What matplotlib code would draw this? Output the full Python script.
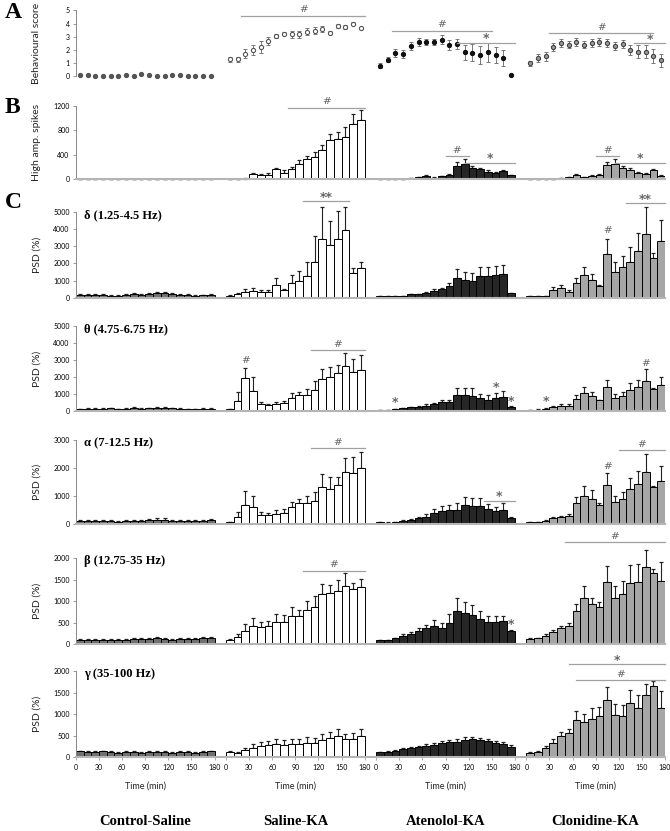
import numpy as np
import matplotlib.pyplot as plt
from matplotlib import transforms

# groups and time bins (10-min bins, 0-180 min)
groups = ['Control-Saline', 'Saline-KA', 'Atenolol-KA', 'Clonidine-KA']
time_min = [10, 20, 30, 40, 50, 60, 70, 80, 90, 100, 110, 120, 130, 140, 150, 160, 170, 180]
xtick_vals = [0, 30, 60, 90, 120, 150, 180]

# A - behavioural score (mean, sem) per group
score_mean = [
    [0.1, 0.1, 0, 0, 0, 0, 0.1, 0, 0.15, 0.05, 0, 0, 0.1, 0.08, 0, 0, 0, 0],
    [1.28, 1.28, 1.7, 1.98, 2.2, 2.68, 3.05, 3.23, 3.18, 3.18, 3.38, 3.45, 3.58, 3.3, 3.78, 3.7, 4.0, 3.65],
    [0.78, 1.25, 1.78, 1.7, 2.3, 2.6, 2.6, 2.6, 2.78, 2.35, 2.45, 1.8, 1.78, 1.6, 1.8, 1.6, 1.35, 0.1],
    [0.98, 1.38, 1.5, 2.2, 2.5, 2.4, 2.58, 2.4, 2.5, 2.6, 2.5, 2.28, 2.45, 2.0, 1.85, 1.85, 1.53, 1.2],
]
score_err = [
    [0, 0, 0, 0, 0, 0, 0, 0, 0, 0, 0, 0, 0, 0, 0, 0, 0, 0],
    [0.2, 0.2, 0.35, 0.4, 0.45, 0.3, 0.15, 0.1, 0.25, 0.25, 0.25, 0.25, 0.2, 0.1, 0.15, 0.15, 0.15, 0.1],
    [0.2, 0.2, 0.3, 0.3, 0.3, 0.3, 0.25, 0.25, 0.35, 0.4, 0.4, 0.6, 0.65, 0.7, 0.7, 0.6, 0.6, 0.0],
    [0.2, 0.3, 0.35, 0.3, 0.3, 0.3, 0.3, 0.3, 0.3, 0.3, 0.3, 0.3, 0.3, 0.4, 0.5, 0.5, 0.5, 0.5],
]

# B - high amplitude spikes
spikes_mean = [
    [4, 5, 3, 4, 5, 4, 3, 5, 4, 3, 4, 5, 4, 3, 4, 3, 4, 3],
    [0, 5, 15, 85, 80, 80, 175, 100, 170, 260, 330, 360, 480, 640, 660, 690, 910, 975],
    [0, 2, 3, 8, 20, 35, 60, 30, 50, 70, 220, 245, 190, 165, 130, 105, 140, 65],
    [2, 2, 3, 8, 20, 40, 80, 35, 55, 75, 230, 250, 190, 160, 110, 90, 150, 60],
]
spikes_err = [
    [1, 1, 1, 1, 1, 1, 1, 1, 1, 1, 1, 1, 1, 1, 1, 1, 1, 1],
    [2, 3, 5, 20, 15, 20, 20, 60, 30, 50, 60, 80, 80, 100, 110, 160, 150, 160],
    [1, 1, 2, 3, 5, 8, 10, 8, 10, 12, 70, 85, 30, 30, 20, 20, 20, 15],
    [1, 1, 2, 3, 5, 8, 12, 8, 10, 12, 60, 90, 30, 25, 20, 15, 20, 15],
]

# C - PSD (%) per frequency band
delta_mean = [
    [150, 180, 160, 170, 120, 110, 150, 210, 170, 200, 250, 280, 220, 160, 150, 110, 140, 160],
    [100, 200, 320, 380, 350, 360, 720, 430, 850, 1000, 1250, 2100, 3450, 3100, 3450, 3950, 1420, 1715],
    [80, 80, 80, 100, 195, 195, 290, 410, 490, 680, 1170, 1030, 970, 1245, 1245, 1300, 1360, 250],
    [80, 80, 100, 430, 545, 310, 840, 1340, 1030, 660, 2550, 1480, 1790, 2100, 2740, 3720, 2350, 3310],
]
delta_err = [
    [40, 50, 40, 50, 40, 30, 40, 50, 40, 50, 60, 60, 50, 40, 40, 30, 40, 50],
    [30, 100, 200, 200, 100, 100, 410, 60, 480, 580, 820, 1530, 1880, 1410, 1650, 1360, 320, 400],
    [10, 10, 10, 15, 30, 30, 60, 80, 100, 170, 480, 450, 450, 525, 525, 550, 540, 50],
    [20, 20, 20, 210, 215, 140, 290, 430, 330, 100, 910, 620, 660, 840, 1070, 1590, 240, 1260],
]
theta_mean = [
    [100, 110, 120, 130, 150, 100, 120, 160, 130, 150, 170, 180, 150, 120, 100, 100, 110, 120],
    [100, 590, 1970, 1200, 430, 335, 410, 470, 790, 925, 945, 1240, 1870, 2000, 2230, 2680, 2290, 2440],
    [60, 60, 100, 160, 215, 255, 315, 410, 510, 550, 945, 945, 905, 750, 670, 770, 850, 235],
    [60, 80, 140, 235, 295, 315, 710, 1040, 870, 630, 1400, 750, 870, 1240, 1400, 1790, 1280, 1520],
]
theta_err = [
    [30, 40, 30, 40, 40, 30, 40, 50, 40, 40, 50, 50, 40, 40, 30, 30, 40, 40],
    [40, 550, 550, 830, 120, 50, 100, 100, 250, 220, 330, 530, 590, 620, 470, 730, 760, 850],
    [10, 10, 20, 30, 40, 50, 70, 80, 120, 130, 400, 400, 430, 230, 300, 300, 330, 40],
    [10, 20, 50, 50, 100, 100, 230, 380, 270, 20, 410, 260, 250, 400, 410, 670, 60, 510],
]
alpha_mean = [
    [110, 110, 120, 120, 130, 90, 110, 120, 120, 150, 170, 160, 130, 110, 120, 120, 120, 150],
    [70, 270, 690, 630, 330, 330, 380, 400, 630, 750, 750, 830, 1340, 1245, 1400, 1850, 1815, 1990],
    [70, 60, 80, 110, 155, 215, 270, 415, 490, 500, 500, 690, 650, 650, 545, 475, 520, 240],
    [70, 70, 120, 215, 250, 300, 750, 1020, 900, 675, 1400, 800, 910, 1245, 1420, 1850, 1340, 1540],
]
alpha_err = [
    [30, 30, 30, 40, 30, 30, 30, 40, 30, 40, 40, 50, 40, 30, 30, 30, 40, 40],
    [20, 160, 500, 380, 100, 60, 120, 150, 180, 150, 260, 310, 440, 450, 300, 520, 570, 600],
    [10, 10, 15, 40, 50, 60, 90, 130, 170, 190, 250, 270, 270, 270, 170, 155, 225, 30],
    [15, 15, 20, 40, 60, 50, 210, 350, 330, 70, 415, 215, 250, 415, 475, 650, 20, 535],
]
beta_mean = [
    [100, 100, 100, 95, 90, 90, 100, 110, 120, 110, 130, 120, 100, 110, 110, 110, 130, 140],
    [95, 165, 300, 430, 390, 420, 510, 510, 645, 655, 785, 870, 1160, 1180, 1245, 1355, 1275, 1340],
    [95, 95, 130, 195, 235, 300, 365, 430, 380, 500, 780, 730, 680, 585, 505, 505, 530, 310],
    [115, 130, 195, 270, 365, 410, 780, 1065, 925, 870, 1440, 1080, 1160, 1415, 1440, 1790, 1650, 1470],
]
beta_err = [
    [20, 20, 20, 20, 20, 20, 20, 25, 25, 25, 30, 25, 20, 25, 25, 25, 25, 30],
    [20, 70, 170, 170, 115, 125, 190, 160, 210, 140, 230, 250, 240, 195, 260, 295, 140, 170],
    [10, 10, 20, 30, 40, 70, 90, 120, 100, 190, 285, 260, 230, 190, 150, 150, 125, 20],
    [20, 20, 40, 50, 60, 70, 155, 290, 155, 115, 380, 270, 305, 430, 430, 400, 100, 450],
]
gamma_mean = [
    [130, 120, 120, 130, 110, 100, 120, 110, 100, 110, 120, 110, 100, 110, 120, 100, 120, 130],
    [110, 90, 160, 220, 250, 280, 300, 290, 300, 310, 330, 320, 400, 440, 500, 410, 430, 480],
    [110, 120, 150, 180, 200, 230, 260, 290, 320, 340, 360, 400, 410, 390, 370, 330, 300, 240],
    [100, 110, 200, 330, 480, 560, 860, 820, 880, 960, 1320, 980, 960, 1250, 1150, 1450, 1660, 1140],
]
gamma_err = [
    [20, 20, 20, 20, 20, 20, 20, 20, 20, 20, 20, 20, 20, 20, 20, 20, 20, 20],
    [30, 30, 60, 80, 90, 100, 110, 100, 110, 120, 130, 120, 140, 150, 160, 130, 140, 170],
    [10, 15, 20, 25, 30, 35, 40, 45, 50, 50, 55, 60, 60, 55, 50, 45, 40, 30],
    [20, 20, 50, 80, 100, 100, 200, 180, 250, 200, 300, 250, 250, 300, 300, 250, 100, 400],
]
band_labels = ['\u03b4 (1.25-4.5 Hz)', '\u03b8 (4.75-6.75 Hz)', '\u03b1 (7-12.5 Hz)',
               '\u03b2 (12.75-35 Hz)', '\u03b3 (35-100 Hz)']

# significance lines: (row, group, t_start, t_end, y, label)
sig_lines = [
    (0, 1, 30, 180, 4.6, '#'), (0, 2, 30, 150, 3.46, '#'), (0, 2, 115, 180, 2.54, '*'),
    (0, 3, 40, 165, 3.26, '#'), (0, 3, 150, 180, 2.5, '*'),
    (1, 1, 90, 180, 1165, '#'), (1, 2, 100, 120, 380, '#'), (1, 2, 125, 180, 276, '*'),
    (1, 3, 100, 120, 380, '#'), (1, 3, 125, 180, 276, '*'),
    (2, 1, 110, 160, 5640, '**'), (2, 3, 140, 180, 5540, '**'),
    (3, 1, 120, 180, 3580, '#'),
    (4, 1, 120, 180, 2700, '#'), (4, 2, 150, 180, 840, '*'), (4, 3, 130, 180, 2645, '#'),
    (5, 1, 110, 180, 1710, '#'), (5, 3, 60, 180, 2375, '#'),
    (6, 3, 65, 180, 2160, '*'), (6, 3, 75, 180, 1790, '#'),
]
# single markers over one bar: (row, group, bin, y, label)
sig_marks = [
    (2, 3, 110, 3910, '#'),
    (3, 1, 30, 2970, '#'), (3, 2, 30, 490, '*'), (3, 2, 160, 1400, '*'), (3, 2, 180, 590, '*'),
    (3, 3, 30, 550, '*'), (3, 3, 160, 2820, '#'),
    (4, 3, 110, 2050, '#'),
    (5, 2, 180, 467, '*'),
]

bar_colors = ['#6f6f6f', 'white', '#262626', '#a6a6a6']
GAP = 195
SANS = 'Lato'
SERIF = 'Liberation Serif'


def sig_font(lab):
    if '#' in lab:
        return dict(fontsize=7.5, family='DejaVu Serif', style='italic')
    return dict(fontsize=9, family='DejaVu Sans', fontweight='bold')


fig = plt.figure(figsize=(6.7, 8.31), dpi=100)
left, width = 0.1134, 0.879
rows = [
    (0.9085, 0.0790, score_mean, score_err, (0, 5), [0, 1, 2, 3, 4, 5], 'Behavioural score'),
    (0.7840, 0.0888, spikes_mean, spikes_err, (0, 1200), [0, 400, 800, 1200], 'High amp. spikes'),
    (0.6418, 0.1028, delta_mean, delta_err, (0, 5000), [0, 1000, 2000, 3000, 4000, 5000], 'PSD (%)'),
    (0.5054, 0.1018, theta_mean, theta_err, (0, 5000), [0, 1000, 2000, 3000, 4000, 5000], 'PSD (%)'),
    (0.3691, 0.1014, alpha_mean, alpha_err, (0, 3000), [0, 1000, 2000, 3000], 'PSD (%)'),
    (0.2250, 0.1031, beta_mean, beta_err, (0, 2000), [0, 500, 1000, 1500, 2000], 'PSD (%)'),
    (0.0890, 0.1035, gamma_mean, gamma_err, (0, 2000), [0, 500, 1000, 1500, 2000], 'PSD (%)'),
]

t = np.array(time_min)
axes = []
for r, (bottom, height, means, errs, ylim, yticks, ylab) in enumerate(rows):
    ax = fig.add_axes([left, bottom, width, height])
    axes.append(ax)
    for g in range(4):
        x = g * GAP + t - 5
        m = np.array(means[g])
        e = np.array(errs[g])
        if r == 0:
            if g == 0:
                kw = dict(mfc='#555555', mec='#555555')
            elif g == 1:
                kw = dict(mfc='white', mec='#555555')
            elif g == 2:
                kw = dict(mfc='#111111', mec='#111111')
            else:
                kw = dict(mfc='#9a9a9a', mec='#444444')
            if g > 0:
                ax.errorbar(x, m, yerr=e, fmt='none', ecolor='#777777',
                            elinewidth=0.7, capsize=1.3, capthick=0.7, clip_on=False)
            ax.plot(x, m, 'o', ms=3.0, mew=0.8, clip_on=False, zorder=3, **kw)
        else:
            ax.errorbar(x, m, yerr=[np.zeros_like(e), e], fmt='none', ecolor='#222222',
                        elinewidth=0.8, capsize=1.3, capthick=0.9, clip_on=False, zorder=1)
            ax.bar(x, m, width=10, color=bar_colors[g], edgecolor='black',
                   linewidth=0.7, zorder=2)

    ax.set_xlim(0, 3 * GAP + 180)
    ax.set_ylim(*ylim)
    ax.set_yticks(yticks)
    ax.set_yticklabels([str(v) for v in yticks], fontsize=5, family=SANS)
    ax.tick_params(axis='y', length=2.5, width=0.6, color='#888888', pad=2)
    for s in ['top', 'right']:
        ax.spines[s].set_visible(False)
    ax.spines['left'].set_color('#888888')
    ax.spines['left'].set_linewidth(0.7)
    if r == 0:
        ax.spines['bottom'].set_visible(False)
    else:
        ax.spines['bottom'].set_color('#b5b5b5')
        ax.spines['bottom'].set_linewidth(1.5)
    if r == len(rows) - 1:
        ticks = [g * GAP + v for g in range(4) for v in xtick_vals]
        ax.set_xticks(ticks)
        ax.set_xticklabels([str(v) for g in range(4) for v in xtick_vals],
                           fontsize=5, family=SANS)
        ax.tick_params(axis='x', length=2, width=0.5, color='#888888', pad=3)
    else:
        ax.set_xticks([])

    fig.text(0.055, bottom + height / 2, ylab, rotation=90, ha='center', va='center',
             fontsize=7.5, family=SANS, color='#222222')
    if r >= 2:
        ax.text(0.013, 0.965, band_labels[r - 2], transform=ax.transAxes,
                fontsize=9, fontweight='bold', family=SERIF, va='center', ha='left')

# significance annotations
for r, g, t0, t1, y, lab in sig_lines:
    ax = axes[r]
    ax.plot([g * GAP + t0 - 10, g * GAP + t1], [y, y], color='#a0a0a0', lw=0.9,
            clip_on=False, zorder=4)
    off = 1 if '#' in lab else -2
    ax.annotate(lab, (g * GAP + (t0 - 10 + t1) / 2, y), xytext=(0, off),
                textcoords='offset points', ha='center', va='bottom', color='#666666',
                annotation_clip=False, **sig_font(lab))
for r, g, tb, y, lab in sig_marks:
    ax = axes[r]
    ax.text(g * GAP + tb - 5, y, lab, ha='center', va='center', color='#666666',
            clip_on=False, **sig_font(lab))

# panel letters
for lab, y in [('A', 0.985), ('B', 0.8706), ('C', 0.7563)]:
    fig.text(0.007, y, lab, fontsize=17, fontweight='bold', family=SERIF,
             ha='left', va='center')

# bottom labels
last = axes[-1]
trans = transforms.blended_transform_factory(last.transData, last.transAxes)
for g, name in enumerate(groups):
    last.text(g * GAP + 90, -0.34, 'Time (min)', transform=trans, ha='center',
              va='center', fontsize=6.5, family=SANS, color='#222222')
    last.text(g * GAP + 90, -0.755, name, transform=trans, ha='center', va='center',
              fontsize=10.5, fontweight='bold', family=SERIF)

fig.savefig('out.png', dpi=100)
